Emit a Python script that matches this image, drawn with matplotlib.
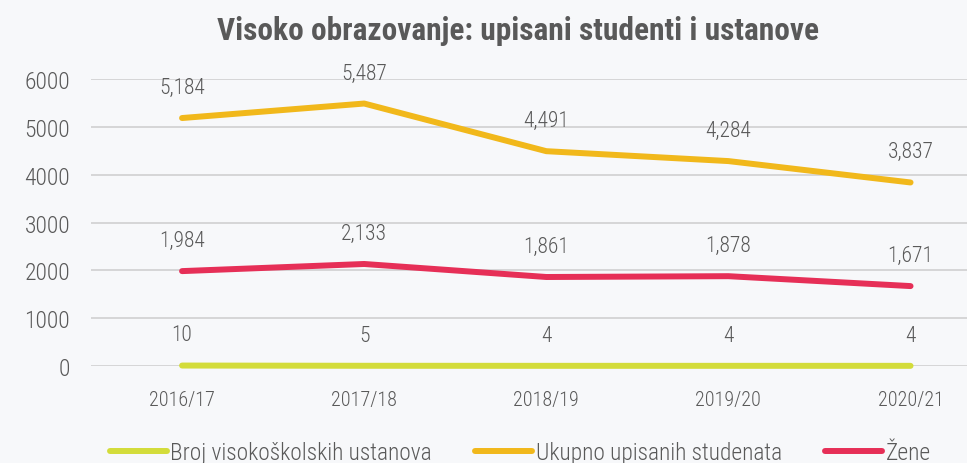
import matplotlib
matplotlib.use("Agg")
import matplotlib.pyplot as plt

plt.rcParams["font.family"] = ["Liberation Sans Narrow", "Roboto Condensed", "DejaVu Sans"]

# ── Data ─────────────────────────────────────────────────────
years = ["2016/17", "2017/18", "2018/19", "2019/20", "2020/21"]
ustanove = [10, 5, 4, 4, 4]
upisani = [5184, 5487, 4491, 4284, 3837]
zene = [1984, 2133, 1861, 1878, 1671]

series = [
    ("Broj visokoškolskih ustanova", ustanove, "#d3dc3a"),
    ("Ukupno upisanih studenata", upisani, "#f1b81b"),
    ("Žene", zene, "#e62f57"),
]

bg = "#f7f8fa"
txt = "#595959"

fig = plt.figure(figsize=(9.67, 4.64), dpi=100, facecolor=bg)
ax = fig.add_axes([0.0941, 0.209, 0.9059, 0.6186], facecolor=bg)

x = list(range(len(years)))
for name, vals, col in series:
    ax.plot(x, vals, color=col, lw=4.3, solid_capstyle="round",
            solid_joinstyle="round", label=name, zorder=3, clip_on=False)
    for xi, v in zip(x, vals):
        ax.annotate(f"{v:,}", (xi, v), xytext=(0, 22), textcoords="offset points",
                    ha="center", va="center", fontsize=15.5, color=txt,
                    fontweight="light", annotation_clip=False)

ax.set_xlim(-0.5, 4.31)
ax.set_ylim(0, 6000)
ax.set_yticks(range(0, 6001, 1000))
ax.set_xticks(x)
ax.set_xticklabels(years)
ax.grid(axis="y", color="#d0d0d0", lw=1.2)
ax.set_axisbelow(True)
for s in ax.spines.values():
    s.set_visible(False)
ax.tick_params(axis="both", length=0, labelcolor=txt)
ax.tick_params(axis="y", pad=15, labelsize=17)
ax.tick_params(axis="x", pad=17, labelsize=14.5)
for lab in ax.get_xticklabels() + ax.get_yticklabels():
    lab.set_fontweight("light")

fig.suptitle("Visoko obrazovanje: upisani studenti i ustanove", x=0.536, y=0.965,
             fontsize=22.6, fontweight="bold", color=txt)

leg = fig.legend(loc="center", bbox_to_anchor=(0.538, 0.022), ncol=3, frameon=False,
                 prop={"size": 16.8, "weight": "light"}, handlelength=2.45,
                 handletextpad=0.15, columnspacing=1.85, labelcolor=txt)
for h in leg.get_lines():
    h.set_linewidth(4.3)
    h.set_solid_capstyle("round")

fig.savefig("out.png", dpi=100, facecolor=bg)
